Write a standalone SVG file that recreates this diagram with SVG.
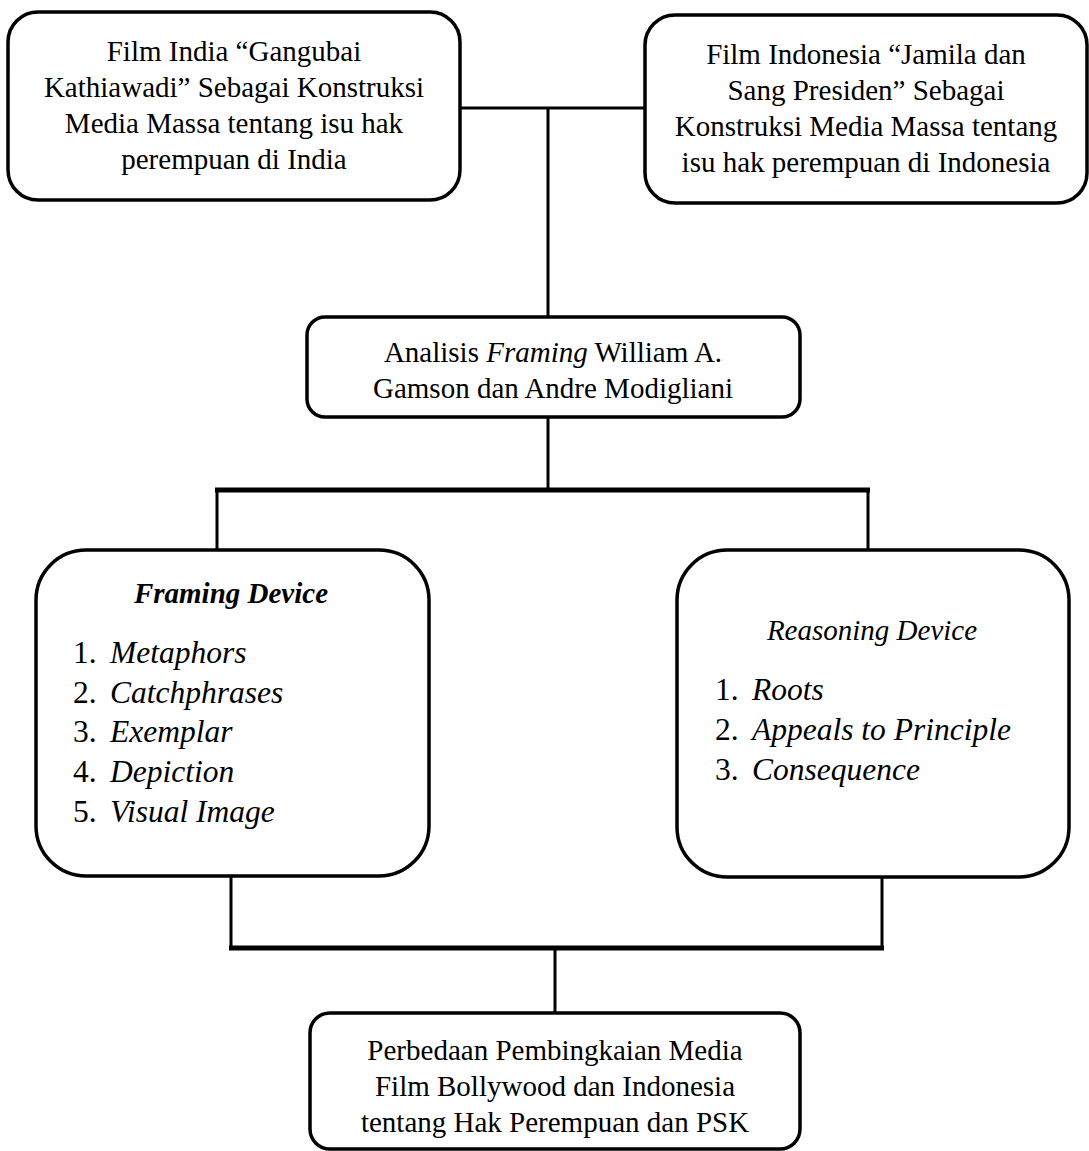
<svg xmlns="http://www.w3.org/2000/svg" width="1089" height="1151" viewBox="0 0 1089 1151">
<style>
.box{fill:#fff;stroke:#000;stroke-width:3.5}
.ln{stroke:#000;stroke-width:3;fill:none}
.thk{stroke:#000;stroke-width:5;fill:none}
text{font-family:"Liberation Serif","Times New Roman",serif;fill:#000}
.t{font-size:29px;text-anchor:middle}
.li{font-size:31.5px}
.it{font-style:italic}
</style>
<rect width="1089" height="1151" fill="#fff"/>
<g id="connectors">
<line class="ln" x1="460" y1="108" x2="645" y2="108"/>
<line class="ln" x1="548" y1="108" x2="548" y2="317"/>
<line class="ln" x1="548" y1="417" x2="548" y2="490"/>
<line class="thk" x1="215" y1="490" x2="870" y2="490"/>
<line class="ln" x1="217" y1="490" x2="217" y2="550"/>
<line class="ln" x1="868" y1="490" x2="868" y2="550"/>
<line class="ln" x1="231" y1="876" x2="231" y2="948"/>
<line class="ln" x1="882" y1="877" x2="882" y2="948"/>
<line class="thk" x1="229" y1="948" x2="884" y2="948"/>
<line class="ln" x1="555" y1="948" x2="555" y2="1013"/>
</g>
<g id="node-india">
<rect class="box" x="8" y="12" width="452" height="188" rx="30"/>
<text class="t" x="234" y="61">Film India “Gangubai</text>
<text class="t" x="234" y="97">Kathiawadi” Sebagai Konstruksi</text>
<text class="t" x="234" y="133">Media Massa tentang isu hak</text>
<text class="t" x="234" y="169">perempuan di India</text>
</g>
<g id="node-indonesia">
<rect class="box" x="645" y="15" width="442" height="188" rx="30"/>
<text class="t" x="866" y="64">Film Indonesia “Jamila dan</text>
<text class="t" x="866" y="100">Sang Presiden” Sebagai</text>
<text class="t" x="866" y="136">Konstruksi Media Massa tentang</text>
<text class="t" x="866" y="172">isu hak perempuan di Indonesia</text>
</g>
<g id="node-analisis">
<rect class="box" x="307" y="317" width="493" height="100" rx="18"/>
<text class="t" x="553" y="362">Analisis <tspan class="it">Framing</tspan> William A.</text>
<text class="t" x="553" y="398">Gamson dan Andre Modigliani</text>
</g>
<g id="node-framing">
<rect class="box" x="36" y="550" width="393" height="326" rx="50"/>
<text class="t it" x="231" y="603" font-weight="bold">Framing Device</text>
<text class="li" x="73" y="663">1.</text><text class="li it" x="110" y="663">Metaphors</text>
<text class="li" x="73" y="703">2.</text><text class="li it" x="110" y="703">Catchphrases</text>
<text class="li" x="73" y="742">3.</text><text class="li it" x="110" y="742">Exemplar</text>
<text class="li" x="73" y="782">4.</text><text class="li it" x="110" y="782">Depiction</text>
<text class="li" x="73" y="822">5.</text><text class="li it" x="110" y="822">Visual Image</text>
</g>
<g id="node-reasoning">
<rect class="box" x="677" y="550" width="392" height="327" rx="50"/>
<text class="t it" x="872" y="640">Reasoning Device</text>
<text class="li" x="715" y="700">1.</text><text class="li it" x="752" y="700">Roots</text>
<text class="li" x="715" y="740">2.</text><text class="li it" x="752" y="740">Appeals to Principle</text>
<text class="li" x="715" y="780">3.</text><text class="li it" x="752" y="780">Consequence</text>
</g>
<g id="node-perbedaan">
<rect class="box" x="310" y="1013" width="490" height="136" rx="20"/>
<text class="t" x="555" y="1060">Perbedaan Pembingkaian Media</text>
<text class="t" x="555" y="1096">Film Bollywood dan Indonesia</text>
<text class="t" x="555" y="1132">tentang Hak Perempuan dan PSK</text>
</g>
</svg>
